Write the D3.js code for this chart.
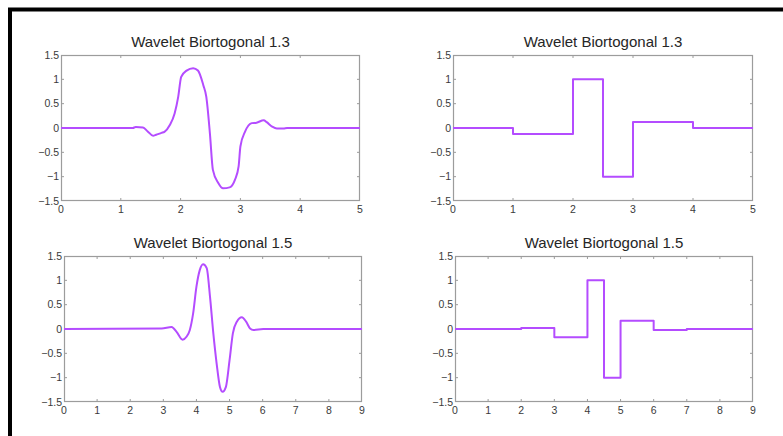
<!DOCTYPE html>
<html>
<head>
<meta charset="utf-8">
<script src="https://cdn.jsdelivr.net/npm/d3@7"></script>
<style>
  body { margin: 0; background: #fff; }
  svg { display: block; }
  .tick-label { font-family: "Liberation Sans", Arial, sans-serif; font-size: 10.5px; fill: #3a3a3a; }
  .title { font-family: "Liberation Sans", Arial, sans-serif; font-size: 15px; fill: #262626; }
</style>
</head>
<body>
<script>
// smooth wavelet, bior 1.3
const bior13X = [0, 1.2, 1.25, 1.37, 1.45, 1.54, 1.59, 1.68, 1.73, 1.82, 1.9, 1.96, 2.01, 2.1, 2.21, 2.29, 2.38, 2.43, 2.49, 2.54, 2.63, 2.71, 2.82, 2.91, 2.97, 3.0, 3.08, 3.19, 3.27, 3.39, 3.44, 3.53, 3.61, 3.72, 3.78, 5]
const bior13Y = [0, 0, 0.02, 0.01, -0.07, -0.16, -0.14, -0.1, -0.08, 0.06, 0.3, 0.64, 1.05, 1.18, 1.23, 1.18, 0.88, 0.64, -0.11, -0.86, -1.13, -1.24, -1.22, -1.06, -0.79, -0.38, -0.07, 0.1, 0.11, 0.16, 0.12, 0.03, -0.01, -0.01, 0, 0]

// step wavelet, bior 1.3
const step13Edges = [0, 1, 2, 2.5, 3, 4, 5]
const step13Values = [0, -0.125, 1, -1, 0.125, 0]

// smooth wavelet, bior 1.5
const bior15X = [0, 2.95, 3.25, 3.4, 3.58, 3.7, 3.8, 3.9, 4.0, 4.1, 4.2, 4.31, 4.41, 4.51, 4.61, 4.71, 4.79, 4.89, 5.0, 5.1, 5.22, 5.37, 5.5, 5.62, 5.72, 6.02, 9]
const bior15Y = [0, 0.01, 0.04, -0.06, -0.22, -0.16, -0.02, 0.32, 0.87, 1.21, 1.33, 1.25, 0.66, -0.09, -0.71, -1.19, -1.29, -1.19, -0.64, -0.09, 0.15, 0.24, 0.15, 0.01, -0.02, 0, 0]

// step wavelet, bior 1.5
const step15Edges = [0, 2, 3, 4, 4.5, 5, 6, 7, 9]
const step15Values = [0, 0.023, -0.172, 1, -1, 0.172, -0.023, 0]

const titles = ['Wavelet Biortogonal 1.3', 'Wavelet Biortogonal 1.3', 'Wavelet Biortogonal 1.5', 'Wavelet Biortogonal 1.5']
const yTicks = [-1.5, -1, -0.5, 0, 0.5, 1, 1.5]

const W = 783, H = 436
const LINE_COLOR = '#b44cff'
const FRAME_COLOR = '#9c9c9c'

const svg = d3.select('body').append('svg')
  .attr('width', W)
  .attr('height', H)

// outer black frame, only top and left visible
svg.append('path')
  .attr('d', `M10,${H} L10,9.5 L${W},9.5`)
  .attr('fill', 'none')
  .attr('stroke', '#000')
  .attr('stroke-width', 4)

const stepPoints = (edges, values) => {
  const pts = values.map((v, i) => [edges[i], v])
  pts.push([edges[edges.length - 1], values[values.length - 1]])
  return pts
}

const panels = [
  { box: [61, 55, 360, 201], xMax: 5, title: titles[0], pts: bior13X.map((x, i) => [x, bior13Y[i]]), curve: d3.curveMonotoneX },
  { box: [453, 55, 753, 201], xMax: 5, title: titles[1], pts: stepPoints(step13Edges, step13Values), curve: d3.curveStepAfter },
  { box: [64, 256, 362, 402], xMax: 9, title: titles[2], pts: bior15X.map((x, i) => [x, bior15Y[i]]), curve: d3.curveMonotoneX },
  { box: [455, 256, 753, 402], xMax: 9, title: titles[3], pts: stepPoints(step15Edges, step15Values), curve: d3.curveStepAfter }
]

const buildPanel = ({ box, xMax, title, pts, curve }) => {
  const [x0, y0, x1, y1] = box
  const x = d3.scaleLinear().domain([0, xMax]).range([x0, x1])
  const y = d3.scaleLinear().domain([-1.5, 1.5]).range([y1, y0])
  const xTicks = d3.range(0, xMax + 1)
  const g = svg.append('g')

  g.append('rect')
    .attr('x', x0).attr('y', y0)
    .attr('width', x1 - x0).attr('height', y1 - y0)
    .attr('fill', '#fff')

  // ticks pointing inward on all four sides
  const tickLen = 3
  g.selectAll('.xt')
    .data(xTicks.slice(1, -1))
    .enter()
    .append('path')
    .attr('d', d => `M${x(d)},${y1} v${-tickLen} M${x(d)},${y0} v${tickLen}`)
    .attr('stroke', FRAME_COLOR)
  g.selectAll('.yt')
    .data(yTicks.slice(1, -1))
    .enter()
    .append('path')
    .attr('d', d => `M${x0},${y(d)} h${tickLen} M${x1},${y(d)} h${-tickLen}`)
    .attr('stroke', FRAME_COLOR)

  g.append('rect')
    .attr('x', x0 + 0.5).attr('y', y0 + 0.5)
    .attr('width', x1 - x0 - 1).attr('height', y1 - y0 - 1)
    .attr('fill', 'none')
    .attr('stroke', FRAME_COLOR)
    .attr('stroke-width', 1.2)

  g.selectAll('.xl')
    .data(xTicks)
    .enter()
    .append('text')
    .attr('class', 'tick-label')
    .attr('x', d => x(d))
    .attr('y', y1 + 12)
    .attr('text-anchor', 'middle')
    .text(d => d)

  g.selectAll('.yl')
    .data(yTicks)
    .enter()
    .append('text')
    .attr('class', 'tick-label')
    .attr('x', x0 - 2)
    .attr('y', d => y(d) + 3.5)
    .attr('text-anchor', 'end')
    .text(d => d3.format('')(d))

  g.append('text')
    .attr('class', 'title')
    .attr('x', (x0 + x1) / 2)
    .attr('y', y0 - 8)
    .attr('text-anchor', 'middle')
    .text(title)

  const line = d3.line()
    .x(d => x(d[0]))
    .y(d => y(d[1]))
    .curve(curve)

  g.append('path')
    .datum(pts)
    .attr('d', line)
    .attr('fill', 'none')
    .attr('stroke', LINE_COLOR)
    .attr('stroke-width', 2)
    .attr('stroke-linejoin', 'round')
}

panels.forEach(buildPanel)
</script>
</body>
</html>
